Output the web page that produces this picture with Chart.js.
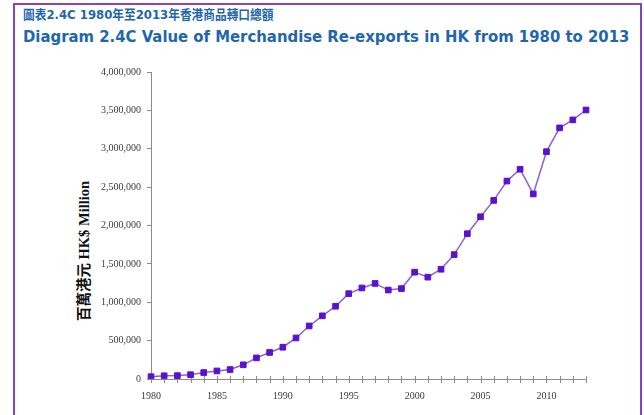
<!DOCTYPE html>
<html>
<head>
<meta charset="utf-8">
<script src="https://cdn.jsdelivr.net/npm/chart.js@4.4.1/dist/chart.umd.min.js"></script>
<style>
  html, body { margin: 0; padding: 0; background: #fff; }
  #wrap { position: relative; width: 644px; height: 415px; overflow: hidden; background: #fff; }
  #frame { position: absolute; left: 13px; top: 3px; width: 629px; height: 440px; border: 2px solid #8144c4; box-sizing: border-box; }
  .title { position: absolute; left: 23px; color: #1f66ad; font-weight: bold; white-space: nowrap; line-height: 1;
           font-family: "DejaVu Sans", "Noto Sans CJK TC", sans-serif; transform-origin: 0 0; }
  #t1 { top: 8px; font-size: 13px; }
  #t2 { top: 30px; font-size: 15px; }
  #ytitle { position: absolute; left: 82px; top: 251px; transform: translate(-50%, -50%) rotate(-90deg);
            white-space: nowrap; font: bold 14.5px "Liberation Serif", "Noto Sans CJK TC", serif; color: #111; }
  canvas { position: absolute; left: 0; top: 0; }
</style>
</head>
<body>
<div id="wrap">
  <div id="frame"></div>
  <div class="title" id="t1">圖表2.4C 1980年至2013年香港商品轉口總額</div>
  <div class="title" id="t2">Diagram 2.4C Value of Merchandise Re-exports in HK from 1980 to 2013</div>
  <div id="ytitle">百萬港元 HK$ Million</div>
  <canvas id="chart" width="644" height="415"></canvas>
</div>
<script>
// re-exports, HK$ million
const years = [1980, 1981, 1982, 1983, 1984, 1985, 1986, 1987, 1988, 1989,
               1990, 1991, 1992, 1993, 1994, 1995, 1996, 1997, 1998, 1999,
               2000, 2001, 2002, 2003, 2004, 2005, 2006, 2007, 2008, 2009,
               2010, 2011, 2012, 2013];
const reExports = [30000, 42000, 44000, 56000, 84000, 105000, 123000, 185000, 275000, 346000,
                   414000, 535000, 691000, 823000, 948000, 1112000, 1186000, 1245000, 1159000, 1178000,
                   1392000, 1327000, 1430000, 1621000, 1893000, 2114000, 2327000, 2579000, 2733000, 2411000,
                   2962000, 3272000, 3376000, 3505000];
const yTickValues = [0, 500000, 1000000, 1500000, 2000000, 2500000, 3000000, 3500000, 4000000];
const xLabelYears = [1980, 1985, 1990, 1995, 2000, 2005, 2010];

// squeeze a title line horizontally to its width, keeping the glyph height
function squeezeTo(id, target) {
  const el = document.getElementById(id);
  el.style.transform = 'scaleX(' + (target / el.scrollWidth) + ')';
}
squeezeTo('t1', 250);
squeezeTo('t2', 606);

// x-axis tick marks that cross the axis line
const crossTicks = {
  id: 'crossTicks',
  beforeDatasetsDraw(chart) {
    const xs = chart.scales.x, ctx = chart.ctx, y0 = xs.top;
    ctx.save();
    ctx.strokeStyle = '#8c8c8c';
    ctx.lineWidth = 1;
    ctx.beginPath();
    years.forEach((yr, i) => {
      const px = Math.round(xs.getPixelForValue(i)) + 0.5;
      ctx.moveTo(px, y0 - 3);
      ctx.lineTo(px, y0 + 4);
    });
    ctx.stroke();
    ctx.restore();
  }
};

const tickFont = { family: '"Liberation Serif", serif', size: 10 };

new Chart(document.getElementById('chart'), {
  type: 'line',
  data: {
    labels: years.map(String),
    datasets: [{
      data: reExports,
      borderColor: '#8d62cf',
      borderWidth: 1.5,
      pointStyle: 'rect',
      pointRadius: 4,
      pointBackgroundColor: '#5a12cf',
      pointBorderColor: '#5a12cf',
      pointBorderWidth: 1,
      tension: 0
    }]
  },
  options: {
    responsive: false,
    animation: false,
    layout: { padding: { left: 0, right: 58, top: 72, bottom: 0 } },
    plugins: { legend: { display: false }, tooltip: { enabled: false } },
    scales: {
      x: {
        type: 'category',
        offset: false,
        afterFit(scale) { scale.height = 36; },
        grid: { drawOnChartArea: false, drawTicks: false },
        border: { color: '#8c8c8c' },
        ticks: {
          autoSkip: false, maxRotation: 0, padding: 11, color: '#3a3a3a', font: tickFont,
          callback: (v, i) => xLabelYears.includes(years[i]) ? String(years[i]) : ''
        }
      },
      y: {
        min: 0,
        max: 4000000,
        afterFit(scale) { scale.width = 151; },
        afterBuildTicks(scale) { scale.ticks = yTickValues.map(v => ({ value: v })); },
        grid: { drawOnChartArea: false, tickLength: 4, color: '#8c8c8c' },
        border: { color: '#8c8c8c' },
        ticks: {
          padding: 6, color: '#3a3a3a', font: tickFont,
          callback: v => v.toLocaleString('en-US')
        }
      }
    }
  },
  plugins: [crossTicks]
});
</script>
</body>
</html>
